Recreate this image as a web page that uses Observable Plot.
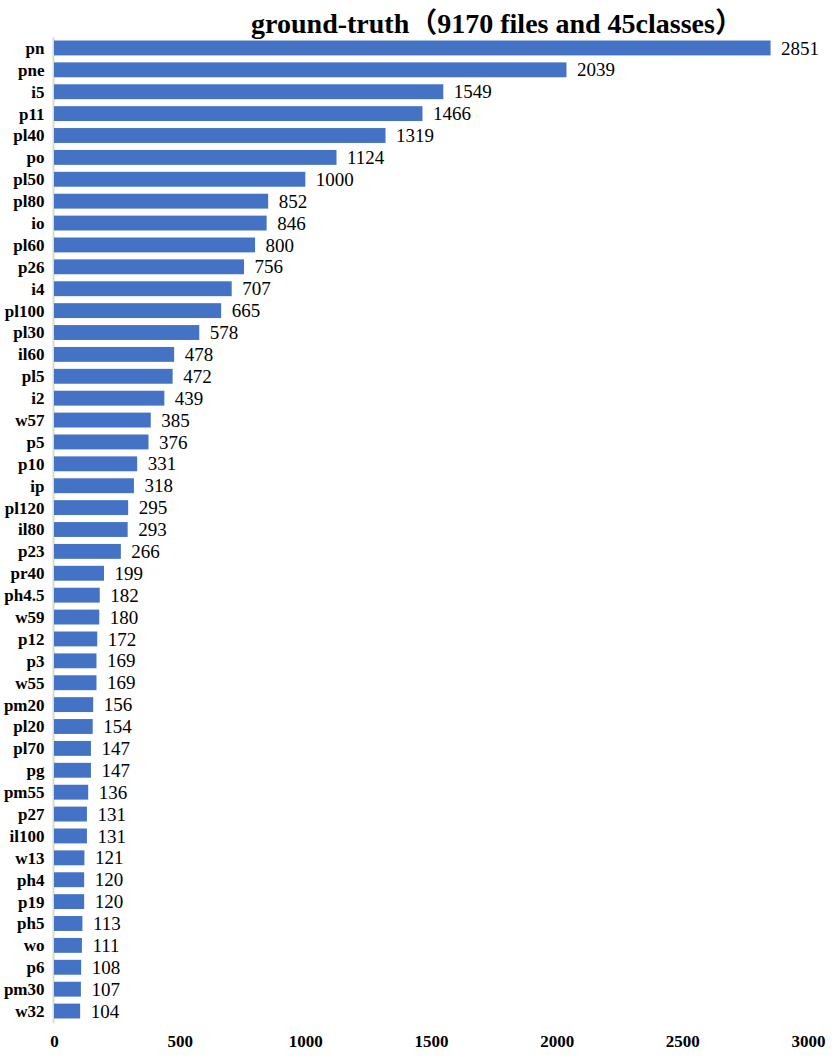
<!DOCTYPE html>
<html>
<head>
<meta charset="utf-8">
<script src="https://cdn.jsdelivr.net/npm/d3@7"></script>
<script src="https://cdn.jsdelivr.net/npm/@observablehq/plot@0.6"></script>
<style>
  html, body { margin: 0; padding: 0; background: #fff; }
  #wrap { position: relative; width: 837px; height: 1064px; }
  #title { position: absolute; left: 0; width: 837px; top: 1px; text-align: center; padding-left: 157px; box-sizing: border-box;
           font-family: "Liberation Serif", "Noto Sans CJK SC", serif; font-weight: bold; font-size: 28px; color: #000; white-space: nowrap; }
  svg { font-family: "Liberation Serif", serif; }
  g[aria-label="y-axis tick label"] text { font-weight: bold; font-size: 17px; fill: #000; }
  g[aria-label="x-axis tick label"] text { font-weight: bold; font-size: 17px; fill: #000; }
</style>
</head>
<body>
<div id="wrap">
  <div id="title">ground-truth（9170 files and 45classes）</div>
  <div id="chart"></div>
</div>
<script>
const labels = ["pn","pne","i5","p11","pl40","po","pl50","pl80","io","pl60","p26","i4","pl100","pl30","il60","pl5","i2","w57","p5","p10","ip","pl120","il80","p23","pr40","ph4.5","w59","p12","p3","w55","pm20","pl20","pl70","pg","pm55","p27","il100","w13","ph4","p19","ph5","wo","p6","pm30","w32"];
const values = [2851,2039,1549,1466,1319,1124,1000,852,846,800,756,707,665,578,478,472,439,385,376,331,318,295,293,266,199,182,180,172,169,169,156,154,147,147,136,131,131,121,120,120,113,111,108,107,104];
const xTicks = [0,500,1000,1500,2000,2500,3000];

const data = labels.map((l, i) => ({label: l, value: values[i]}));

const chart = Plot.plot({
  width: 837,
  height: 1064,
  marginLeft: 54,
  marginRight: 29,
  marginTop: 33.5,
  marginBottom: 38.5,
  x: {domain: [0, 3000], ticks: xTicks, tickFormat: d => String(d), label: null},
  y: {domain: labels, padding: 0.32, label: null},
  marks: [
    Plot.ruleX([0], {stroke: "#d9d9d9", strokeWidth: 2, dx: -1, insetTop: 4, insetBottom: 2}),
    Plot.barX(data, {x: "value", y: "label", fill: "#4472C4"}),
    Plot.text(data, {x: "value", y: "label", text: d => String(d.value), textAnchor: "start", dx: 10, fontSize: 19, fill: "#000"}),
    Plot.axisY({tickSize: 0, tickPadding: 10}),
    Plot.axisX({tickSize: 0, tickPadding: 9, tickFormat: d => String(d)})
  ]
});
document.getElementById("chart").appendChild(chart);
</script>
</body>
</html>
